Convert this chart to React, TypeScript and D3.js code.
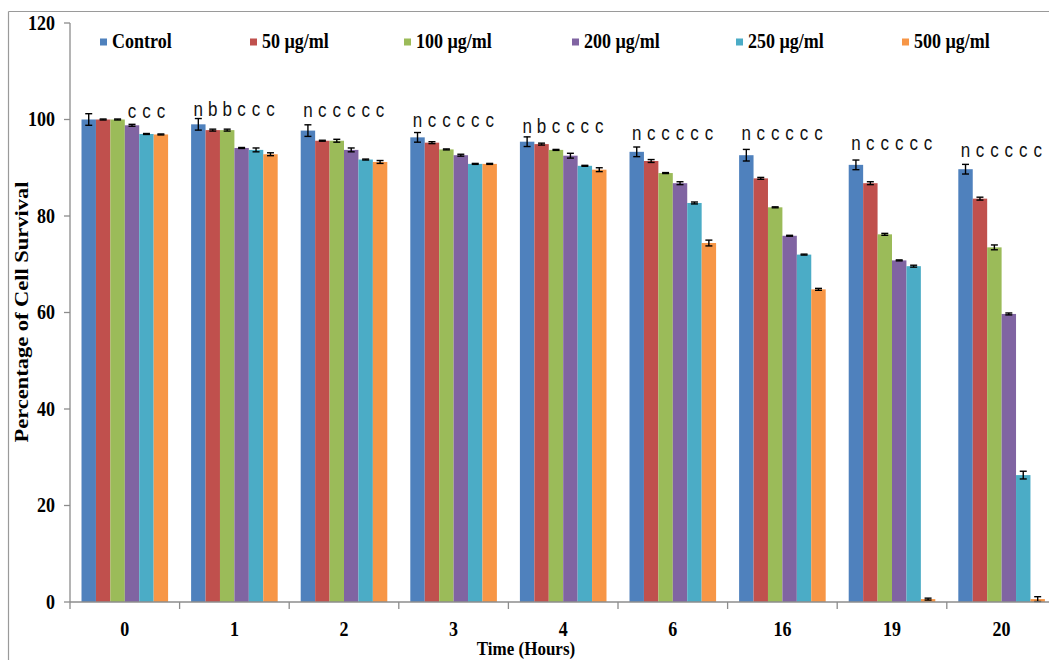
import React from "react";
import * as d3 from "d3";

const categories = ["0", "1", "2", "3", "4", "6", "16", "19", "20"];
const seriesNames = ["Control", "50 µg/ml", "100 µg/ml", "200 µg/ml", "250 µg/ml", "500 µg/ml"];
const seriesColors = ["#4F81BD", "#C0504D", "#9BBB59", "#8064A2", "#4BACC6", "#F79646"];

const control = [100, 99, 97.7, 96.3, 95.4, 93.3, 92.6, 90.6, 89.7];
const conc50 = [100, 97.8, 95.6, 95.2, 94.9, 91.4, 87.8, 86.8, 83.6];
const conc100 = [100, 97.8, 95.6, 93.8, 93.7, 88.9, 81.8, 76.2, 73.5];
const conc200 = [98.8, 94.1, 93.7, 92.6, 92.5, 86.8, 75.9, 70.8, 59.7];
const conc250 = [97, 93.7, 91.7, 90.8, 90.4, 82.7, 72.0, 69.6, 26.3];
const conc500 = [96.9, 92.8, 91.2, 90.8, 89.6, 74.4, 64.8, 0.6, 0.6];

const errControl = [1.2, 1.2, 1.2, 1.0, 1.0, 1.0, 1.2, 1.0, 1.0];
const err50 = [0.1, 0.2, 0.1, 0.2, 0.2, 0.3, 0.2, 0.3, 0.3];
const err100 = [0.1, 0.2, 0.3, 0.1, 0.1, 0.1, 0.1, 0.2, 0.5];
const err200 = [0.2, 0.1, 0.4, 0.2, 0.5, 0.3, 0.1, 0.1, 0.2];
const err250 = [0.1, 0.4, 0.1, 0.1, 0.1, 0.2, 0.1, 0.2, 0.8];
const err500 = [0.1, 0.3, 0.3, 0.1, 0.4, 0.6, 0.2, 0.2, 0.5];

const letters = [
  ["", "", "", "c", "c", "c"],
  ["n", "b", "b", "c", "c", "c"],
  ["n", "c", "c", "c", "c", "c"],
  ["n", "c", "c", "c", "c", "c"],
  ["n", "b", "c", "c", "c", "c"],
  ["n", "c", "c", "c", "c", "c"],
  ["n", "c", "c", "c", "c", "c"],
  ["n", "c", "c", "c", "c", "c"],
  ["n", "c", "c", "c", "c", "c"],
];
// letter baseline level, in data units
const letterLevel = [100.3, 100.7, 100.5, 98.4, 97.3, 95.8, 95.8, 93.7, 92.2];

const yTicks = [0, 20, 40, 60, 80, 100, 120];

const values = [conc50, conc100, conc200, conc250, conc500];
const allValues = [control, ...values];
const allErrors = [errControl, err50, err100, err200, err250, err500];

const W = 1049;
const H = 660;
const left = 70;
const top = 23;
const bottom = 602;
const step = 109.6;
const right = left + step * categories.length;

const serif = "'Liberation Serif', 'Times New Roman', serif";
const sans = "'Liberation Sans', Arial, sans-serif";

function SText(props: { x: number; y: number; sy?: number; children: any; anchor?: string; size: number; family: string; weight?: string; fill?: string }) {
  const { x, y, sy = 1.15, children, anchor = "start", size, family, weight = "bold", fill = "#000" } = props;
  return (
    <text
      transform={`translate(${x},${y}) scale(1,${sy})`}
      textAnchor={anchor as any}
      fontSize={size}
      fontFamily={family}
      fontWeight={weight}
      fill={fill}
    >
      {children}
    </text>
  );
}

export default function App() {
  const y = d3.scaleLinear().domain([0, 120]).range([bottom, top]);
  const x0 = d3.scaleBand<string>().domain(categories).range([left, right]).paddingInner(0.21).paddingOuter(0.105);
  const x1 = d3.scaleBand<string>().domain(seriesNames).range([0, x0.bandwidth()]).padding(0);

  const legendX = [100, 250, 404, 572, 736, 902];
  const axisColor = "#8c8c8c";

  return (
    <svg width={W} height={H} style={{ position: "absolute", left: 0, top: 0, background: "#fff" }}>
      <rect x={0} y={0} width={W} height={H} fill="#fff" />
      {/* outer frame */}
      <line x1={8.5} y1={11.5} x2={W} y2={11.5} stroke="#9a9a9a" strokeWidth={1.2} />
      <line x1={8.5} y1={11.5} x2={8.5} y2={H} stroke="#9a9a9a" strokeWidth={1.2} />

      {/* bars */}
      {categories.map((c, gi) => (
        <g key={c} transform={`translate(${x0(c)},0)`}>
          {seriesNames.map((s, si) => {
            const v = allValues[si][gi];
            const e = allErrors[si][gi];
            const bx = x1(s) as number;
            const bw = x1.bandwidth();
            const cx = bx + bw / 2;
            return (
              <g key={s}>
                <rect x={bx} y={y(v)} width={bw} height={bottom - y(v)} fill={seriesColors[si]} />
                <line x1={cx} x2={cx} y1={y(v + e)} y2={y(v - e)} stroke="#000" strokeWidth={1.4} />
                <line x1={cx - 3.5} x2={cx + 3.5} y1={y(v + e)} y2={y(v + e)} stroke="#000" strokeWidth={1.4} />
                <line x1={cx - 3.5} x2={cx + 3.5} y1={y(v - e)} y2={y(v - e)} stroke="#000" strokeWidth={1.4} />
                {letters[gi][si] ? (
                  <SText x={cx} y={y(letterLevel[gi])} size={17} sy={1.15} family={sans} weight="normal" anchor="middle" fill="#111">
                    {letters[gi][si]}
                  </SText>
                ) : null}
              </g>
            );
          })}
        </g>
      ))}

      {/* y axis */}
      <line x1={left} x2={left} y1={top} y2={bottom} stroke={axisColor} strokeWidth={1.3} />
      {yTicks.map((t) => (
        <g key={t}>
          <line x1={left - 6} x2={left} y1={y(t)} y2={y(t)} stroke={axisColor} strokeWidth={1.3} />
          <SText x={55} y={y(t) + 6.5} size={18} family={serif} anchor="end">
            {t}
          </SText>
        </g>
      ))}

      {/* x axis */}
      <line x1={left} x2={right} y1={bottom} y2={bottom} stroke={axisColor} strokeWidth={1.3} />
      {d3.range(categories.length + 1).map((i) => (
        <line key={i} x1={left + i * step} x2={left + i * step} y1={bottom} y2={bottom + 7} stroke={axisColor} strokeWidth={1.3} />
      ))}
      {categories.map((c) => (
        <SText key={c} x={(x0(c) as number) + x0.bandwidth() / 2} y={636} size={18} family={serif} anchor="middle">
          {c}
        </SText>
      ))}

      {/* axis titles */}
      <SText x={526} y={655} size={17} sy={1.1} family={serif} anchor="middle">
        Time (Hours)
      </SText>
      <text
        transform={`translate(28,312) rotate(-90)`}
        textAnchor="middle"
        fontSize={19}
        fontFamily={serif}
        fontWeight="bold"
        textLength={261}
        lengthAdjust="spacingAndGlyphs"
      >
        Percentage of Cell Survival
      </text>

      {/* legend */}
      {seriesNames.map((s, i) => (
        <g key={s}>
          <rect x={legendX[i]} y={38.5} width={7} height={7} fill={seriesColors[i]} />
          <SText x={legendX[i] + 12} y={48} size={18} sy={1.22} family={serif}>
            {s}
          </SText>
        </g>
      ))}
    </svg>
  );
}
